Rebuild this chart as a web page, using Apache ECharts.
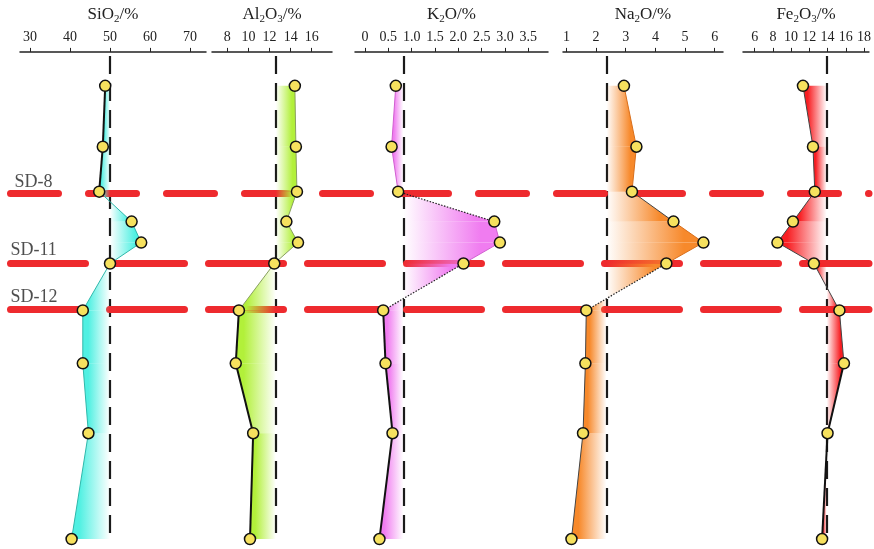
<!DOCTYPE html>
<html><head><meta charset="utf-8">
<script src="https://cdn.jsdelivr.net/npm/echarts@6/dist/echarts.min.js"></script>
<style>html,body{margin:0;padding:0;background:#fff}#c{width:874px;height:549px}</style>
</head><body><div id="c"></div>
<script>
// sample depths (arbitrary depth units, increasing downward)
const depths = [3.4, 9.5, 14.0, 17.0, 19.1, 21.2, 25.9, 31.2, 38.2, 48.8];
const sio2  = [48.8, 48.2, 47.3, 55.4, 57.8, 50.0, 43.2, 43.2, 44.6, 40.4];
const al2o3 = [14.4, 14.5, 14.6, 13.6, 14.7, 12.45, 9.1, 8.8, 10.45, 10.15];
const k2o   = [0.66, 0.57, 0.71, 2.77, 2.89, 2.11, 0.39, 0.44, 0.59, 0.31];
const na2o  = [2.94, 3.36, 3.21, 4.61, 5.62, 4.37, 1.67, 1.64, 1.56, 1.17];
const fe2o3 = [11.3, 12.4, 12.6, 10.2, 8.5, 12.5, 15.3, 15.8, 14.0, 13.4];
// reference (average) values drawn as dashed vertical lines
const refValues = [50, 12.6, 0.82, 2.35, 13.9];
// horizontal sample boundaries
const boundaryNames  = ['SD-8', 'SD-11', 'SD-12'];
const boundaryDepths = [14.25, 21.2, 25.85];
// axis tick labels
const siTicks = [30, 40, 50, 60, 70];
const alTicks = [8, 10, 12, 14, 16];
const kTicks  = [0, 0.5, 1.0, 1.5, 2.0, 2.5, 3.0, 3.5];
const naTicks = [1, 2, 3, 4, 5, 6];
const feTicks = [6, 8, 10, 12, 14, 16, 18];
const axisNames = ['SiO{s|2}/%', 'Al{s|2}O{s|3}/%', 'K{s|2}O/%', 'Na{s|2}O/%', 'Fe{s|2}O{s|3}/%'];

const FONT = "'Liberation Serif','Times New Roman',serif";
const DMIN = 0, DMAX = 49.8, REF_TOP = 0.4, REF_BOT = 49.0;

const panels = [
  {data: sio2,  ticks: siTicks, min: 27.5, max: 74.0,  left: 20,  width: 186, color: '#50f0e2', thin: '#2fb8ab', edges: 'bbttttttt', fmt: v => String(v)},
  {data: al2o3, ticks: alTicks, min: 6.55, max: 17.92, left: 212, width: 120, color: '#b2f03a', thin: '#8aa060', edges: 'ttttttbbb', fmt: v => String(v)},
  {data: k2o,   ticks: kTicks,  min: -0.214, max: 3.921, left: 355, width: 193, color: '#f07cf0', thin: '#d060d0', edges: 'ttdttdbbb', fmt: v => v === 0 ? '0' : v.toFixed(1)},
  {data: na2o,  ticks: naTicks, min: 0.885, max: 6.28, left: 563, width: 160, color: '#f7892b', thin: '#d86f1c', edges: 'ttkttdkkk', fmt: v => String(v)},
  {data: fe2o3, ticks: feTicks, min: 4.72, max: 18.54, left: 743, width: 127, color: '#f81e22', thin: '#555555', edges: 'kkkkkkkbb', fmt: v => String(v)}
];

function transparent(hex) {
  const n = parseInt(hex.slice(1), 16);
  return 'rgba(' + (n >> 16 & 255) + ',' + (n >> 8 & 255) + ',' + (n & 255) + ',0)';
}

const grids = [], xAxes = [], yAxes = [], series = [];
panels.forEach((p, i) => {
  grids.push({left: p.left, top: 51, width: p.width, height: 498});
  xAxes.push({
    gridIndex: i, type: 'value', position: 'top', min: p.min, max: p.max,
    name: axisNames[i], nameLocation: 'middle', nameGap: 21,
    nameTextStyle: {fontFamily: FONT, fontSize: 17, color: '#222', lineHeight: 20,
      rich: {s: {fontFamily: FONT, fontSize: 11, lineHeight: 9, verticalAlign: 'bottom', color: '#222'}}},
    axisLine: {show: true, onZero: false, lineStyle: {color: '#222', width: 1.5}},
    axisTick: {show: true, length: 4, lineStyle: {color: '#222', width: 1}, customValues: p.ticks},
    axisLabel: {customValues: p.ticks, formatter: p.fmt, fontFamily: FONT, fontSize: 14, color: '#222', margin: 8},
    splitLine: {show: false}
  });
  yAxes.push({gridIndex: i, type: 'value', inverse: true, min: DMIN, max: DMAX, show: false});

  const ref = refValues[i];
  const col = p.color, colT = transparent(p.color);
  const segs = [];
  for (let k = 0; k < p.data.length - 1; k++) segs.push([p.data[k], depths[k], p.data[k + 1], depths[k + 1], k]);

  // dashed reference line
  series.push({
    type: 'line', xAxisIndex: i, yAxisIndex: i, data: [], z: 1, silent: true,
    markLine: {silent: true, z: 1, symbol: 'none', label: {show: false}, animation: false,
      lineStyle: {color: '#1a1a1a', width: 2.2, type: [18, 9]},
      data: [[{coord: [ref, REF_TOP]}, {coord: [ref, REF_BOT]}]]}
  });

  // gradient fills between profile and reference line + profile edges
  series.push({
    type: 'custom', xAxisIndex: i, yAxisIndex: i, z: 10, silent: true, clip: true,
    encode: {x: [0, 2], y: [1, 3]},
    data: segs,
    renderItem: function (params, api) {
      const x0 = api.value(0), y0 = api.value(1), x1 = api.value(2), y1 = api.value(3);
      const k = api.value(4);
      const p0 = api.coord([x0, y0]), p1 = api.coord([x1, y1]);
      const r0 = api.coord([ref, y0]), r1 = api.coord([ref, y1]);
      const children = [];
      function poly(points, side) {
        const stops = side < 0
          ? [{offset: 0, color: col}, {offset: 0.2, color: col}, {offset: 1, color: colT}]
          : [{offset: 0, color: colT}, {offset: 0.8, color: col}, {offset: 1, color: col}];
        children.push({type: 'polygon', shape: {points: points},
          style: {fill: new echarts.graphic.LinearGradient(0, 0, 1, 0, stops)}});
      }
      const d0 = x0 - ref, d1 = x1 - ref;
      if (d0 * d1 >= 0) {
        if (d0 !== 0 || d1 !== 0) poly([r0, p0, p1, r1], (d0 + d1) < 0 ? -1 : 1);
      } else {
        const t = d0 / (d0 - d1);
        const pc = api.coord([ref, y0 + t * (y1 - y0)]);
        poly([r0, p0, pc], d0 < 0 ? -1 : 1);
        poly([pc, p1, r1], d1 < 0 ? -1 : 1);
      }
      const e = p.edges[k];
      let st;
      if (e === 'b') st = {stroke: '#111', lineWidth: 2};
      else if (e === 'd') st = {stroke: '#222', lineWidth: 1.2, lineDash: [1.5, 1.5]};
      else if (e === 'k') st = {stroke: '#444', lineWidth: 1};
      else st = {stroke: p.thin, lineWidth: 1};
      children.push({type: 'line', shape: {x1: p0[0], y1: p0[1], x2: p1[0], y2: p1[1]}, style: st});
      return {type: 'group', children: children};
    }
  });

  // sample points
  series.push({
    type: 'scatter', xAxisIndex: i, yAxisIndex: i, z: 11, silent: true,
    symbol: 'circle', symbolSize: 11,
    itemStyle: {color: '#f6e15e', borderColor: '#111', borderWidth: 1.5, opacity: 1},
    data: p.data.map((v, k) => [v, depths[k]])
  });
});

// overlay grid for the red boundary lines and their labels
const ov = panels.length;
grids.push({left: 10.5, top: 51, width: 858.5, height: 498});
xAxes.push({gridIndex: ov, type: 'value', min: 0, max: 1, show: false});
yAxes.push({gridIndex: ov, type: 'value', inverse: true, min: DMIN, max: DMAX, show: false});
const labelOffsets = [[0, -11], [-4, -13], [-4, -12]];
series.push({
  type: 'scatter', xAxisIndex: ov, yAxisIndex: ov, z: 2, silent: true,
  symbolSize: 0,
  data: boundaryDepths.map((d, k) => ({value: [0, d], name: boundaryNames[k],
    label: {offset: labelOffsets[k]}})),
  label: {show: true, position: 'right', distance: 4, formatter: '{b}',
    fontFamily: FONT, fontSize: 18, color: '#222'},
  markLine: {silent: true, z: 2, symbol: 'none', label: {show: false}, animation: false,
    data: boundaryDepths.map((d, k) => ({yAxis: d,
      lineStyle: {color: '#ee2a2e', width: 7, cap: 'round', type: k === 0 ? [48, 30] : [75, 24]}}))}
});

const chart = echarts.init(document.getElementById('c'), null, {renderer: 'canvas'});
chart.setOption({animation: false, backgroundColor: '#fff', grid: grids, xAxis: xAxes, yAxis: yAxes, series: series});
</script></body></html>
